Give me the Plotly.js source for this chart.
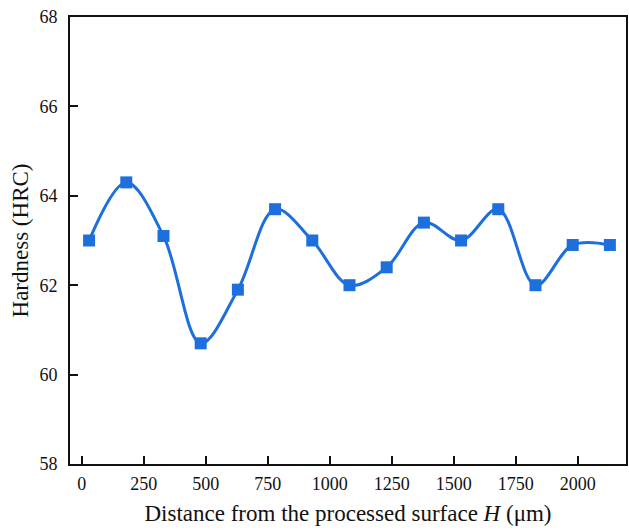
<!DOCTYPE html>
<html>
<head>
<meta charset="utf-8">
<script src="https://cdn.plot.ly/plotly-3.0.1.min.js"></script>
<style>html,body{margin:0;padding:0;background:#fff;}#chart{width:629px;height:532px;}</style>
</head>
<body>
<div id="chart"></div>
<script>
const distance = [30, 180, 330, 480, 630, 780, 930, 1080, 1230, 1380, 1530, 1680, 1830, 1980, 2130];
const hardness = [63.0, 64.3, 63.1, 60.7, 61.9, 63.7, 63.0, 62.0, 62.4, 63.4, 63.0, 63.7, 62.0, 62.9, 62.9];
const xTicks = [0, 250, 500, 750, 1000, 1250, 1500, 1750, 2000];
const yTicks = [58, 60, 62, 64, 66, 68];

const trace = {
  x: distance,
  y: hardness,
  type: 'scatter',
  mode: 'lines+markers',
  line: {color: '#1c6fdc', width: 3, shape: 'spline', smoothing: 1},
  marker: {symbol: 'square', size: 12, color: '#1c6fdc'},
  showlegend: false
};

const font = {family: '"Liberation Serif", "Times New Roman", serif', color: '#111'};

const layout = {
  width: 629, height: 532,
  margin: {l: 70, r: 3, t: 17, b: 68},
  paper_bgcolor: '#fff', plot_bgcolor: '#fff',
  font: font,
  xaxis: {
    range: [-47, 2195],
    tickvals: xTicks,
    ticktext: xTicks.map(String),
    ticks: 'inside', ticklen: 8, tickwidth: 2, tickcolor: '#111',
    showline: true, linewidth: 2, linecolor: '#111', mirror: true,
    showgrid: false, zeroline: false,
    tickfont: {size: 18, family: font.family, color: '#111'},
    ticklabelstandoff: 2,
    title: {text: 'Distance from the processed surface <i>H</i> (μm)', font: {size: 23, family: font.family, color: '#111'}, standoff: 12}
  },
  yaxis: {
    range: [58, 68],
    tickvals: yTicks,
    ticktext: yTicks.map(String),
    ticks: 'inside', ticklen: 8, tickwidth: 2, tickcolor: '#111',
    showline: true, linewidth: 2, linecolor: '#111', mirror: true,
    showgrid: false, zeroline: false,
    tickfont: {size: 18, family: font.family, color: '#111'},
    ticklabelstandoff: 7,
    title: {text: 'Hardness (HRC)', font: {size: 23, family: font.family, color: '#111'}, standoff: 4}
  }
};

Plotly.newPlot('chart', [trace], layout, {displayModeBar: false, staticPlot: true});
</script>
</body>
</html>
